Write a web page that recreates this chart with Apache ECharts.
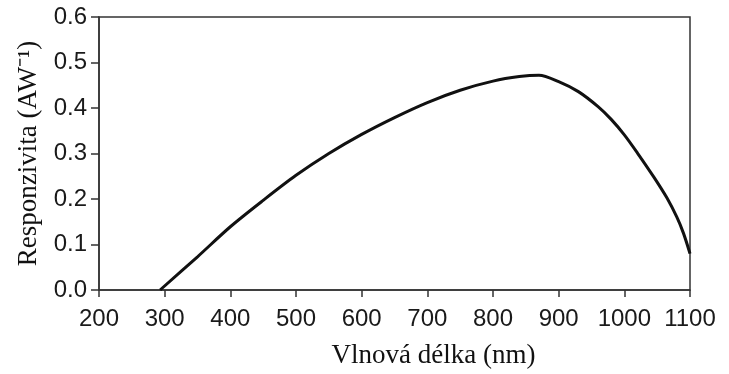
<!DOCTYPE html>
<html>
<head>
<meta charset="utf-8">
<script src="https://cdn.jsdelivr.net/npm/echarts@6/dist/echarts.min.js"></script>
<style>html,body{margin:0;padding:0;background:#fff}#c{width:729px;height:374px}</style>
</head>
<body>
<div id="c"></div>
<script>
var wavelength = [293, 350, 400, 450, 500, 550, 600, 650, 700, 750, 800, 840, 870, 900, 930, 960, 980, 1000, 1020, 1045, 1065, 1080, 1090, 1100];
var responsivity = [0.0, 0.073, 0.139, 0.197, 0.252, 0.300, 0.342, 0.379, 0.412, 0.439, 0.459, 0.469, 0.472, 0.458, 0.436, 0.403, 0.375, 0.341, 0.301, 0.248, 0.202, 0.160, 0.125, 0.080];
var xTicks = { min: 200, max: 1100, step: 100 };
var yTicks = { min: 0, max: 0.6, step: 0.1 };
var xTitle = 'Vlnová délka (nm)';
var yTitle = 'Responzivita (AW⁻¹)';

var pts = wavelength.map(function (w, i) { return [w, responsivity[i]]; });
var chart = echarts.init(document.getElementById('c'), null, { renderer: 'canvas' });
var axisCol = '#333';
chart.setOption({
  animation: false,
  backgroundColor: '#fff',
  grid: { left: 99, right: 39, top: 17, bottom: 76, show: true, borderColor: axisCol, borderWidth: 1.5, backgroundColor: 'transparent' },
  xAxis: {
    type: 'value', min: xTicks.min, max: xTicks.max, interval: xTicks.step,
    name: xTitle, nameLocation: 'middle', nameGap: 52,
    nameTextStyle: { fontFamily: 'Liberation Serif', fontSize: 27, color: '#111', padding: [0, 0, 0, 78] },
    axisLine: { lineStyle: { color: axisCol, width: 1.5 } },
    axisTick: { inside: false, length: 7, lineStyle: { color: axisCol, width: 1.5 } },
    axisLabel: { fontFamily: 'Liberation Sans', fontSize: 24, color: '#1a1a1a', margin: 17,
      formatter: function (v) { return String(v); } },
    splitLine: { show: false }
  },
  yAxis: {
    type: 'value', min: yTicks.min, max: yTicks.max, interval: yTicks.step,
    name: yTitle, nameLocation: 'middle', nameGap: 54,
    nameTextStyle: { fontFamily: 'Liberation Serif', fontSize: 27, color: '#111' },
    axisLine: { lineStyle: { color: axisCol, width: 1.5 } },
    axisTick: { inside: false, length: 8, lineStyle: { color: axisCol, width: 1.5 } },
    axisLabel: { fontFamily: 'Liberation Sans', fontSize: 24, color: '#1a1a1a', margin: 12,
      formatter: function (v) { return v.toFixed(1); } },
    splitLine: { show: false }
  },
  series: [{
    type: 'line', data: pts, showSymbol: false, smooth: 0.3,
    lineStyle: { color: '#111', width: 3 }
  }]
});
</script>
</body>
</html>
